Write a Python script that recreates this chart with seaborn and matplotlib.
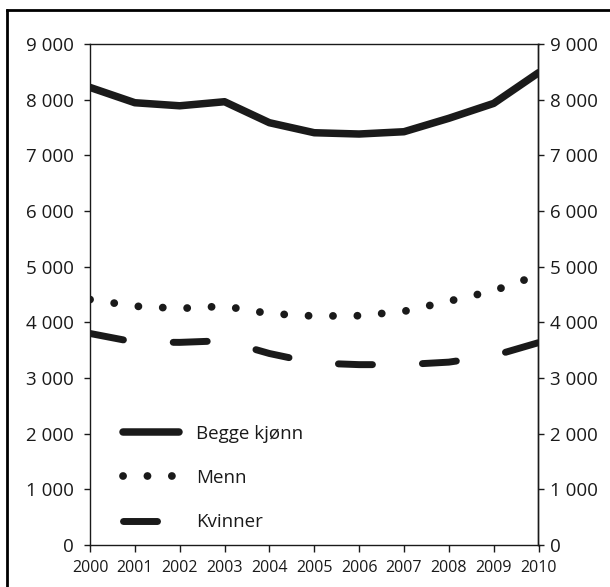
import matplotlib
matplotlib.use("Agg")
import matplotlib.pyplot as plt
from matplotlib.lines import Line2D
from matplotlib.ticker import FuncFormatter
import seaborn as sns
import pandas as pd

years = [2000, 2001, 2002, 2003, 2004, 2005, 2006, 2007, 2008, 2009, 2010]
begge = [8220, 7945, 7890, 7963, 7586, 7406, 7383, 7424, 7665, 7933, 8484]
menn = [4410, 4290, 4250, 4290, 4157, 4113, 4119, 4198, 4380, 4568, 4850]
kvinner = [3800, 3645, 3640, 3670, 3440, 3270, 3240, 3240, 3285, 3400, 3635]
labels = ["Begge kjønn", "Menn", "Kvinner"]
yticks = [0, 1000, 2000, 3000, 4000, 5000, 6000, 7000, 8000, 9000]

sns.set_style("white")
plt.rcParams["font.family"] = ["Open Sans", "DejaVu Sans"]

df = pd.DataFrame({"year": years, "begge": begge, "menn": menn, "kvinner": kvinner})

fig = plt.figure(figsize=(6.10, 5.87), dpi=100)
ax = fig.add_axes([90 / 610, 42 / 587, 448.5 / 610, 501 / 587])

sns.lineplot(data=df, x="year", y="begge", ax=ax, color="#1a1a1a", lw=5.4,
             solid_capstyle="round", solid_joinstyle="round", label=labels[0])
sns.lineplot(data=df, x="year", y="menn", ax=ax, color="#1a1a1a", lw=5.6,
             linestyle=(0, (0.01, 3.13)), dash_capstyle="round", label=labels[1])
sns.lineplot(data=df, x="year", y="kvinner", ax=ax, color="#1a1a1a", lw=5.0,
             linestyle=(0, (4.9, 7.2)), dash_capstyle="round", label=labels[2])

ax.set_xlim(2000, 2010)
ax.set_ylim(0, 9000)
ax.set_xticks(years)
ax.set_xticklabels([str(y) for y in years])
ax.set_yticks(yticks)
fmt = FuncFormatter(lambda v, p: f"{int(v):,}".replace(",", " "))
ax.yaxis.set_major_formatter(fmt)
ax.set_xlabel("")
ax.set_ylabel("")
for s in ax.spines.values():
    s.set_color("#1a1a1a")
    s.set_linewidth(1.0)
    s.set_visible(True)
ax.tick_params(axis="y", direction="out", length=4.5, width=1.0, color="#1a1a1a",
               pad=7, labelsize=13.5, labelcolor="#1a1a1a", left=True)
ax.tick_params(axis="x", direction="out", length=4.8, width=1.0, color="#1a1a1a",
               pad=6, labelsize=11.5, labelcolor="#1a1a1a", bottom=True)

ax2 = ax.twinx()
ax2.set_ylim(0, 9000)
ax2.set_yticks(yticks)
ax2.yaxis.set_major_formatter(fmt)
ax2.tick_params(axis="y", direction="out", length=4.5, width=1.0, color="#1a1a1a",
                pad=4, labelsize=13.5, labelcolor="#1a1a1a", right=True)
for s in ax2.spines.values():
    s.set_visible(False)
ax2.spines["right"].set_visible(True)
ax2.spines["right"].set_linewidth(1.0)
ax2.spines["right"].set_color("#1a1a1a")
ax2.grid(False)
ax.grid(False)

handles = ax.get_lines()[:3]
leg = ax.legend(handles, labels, loc="center left",
                bbox_to_anchor=((123 - 90) / 448.5, (545 - 478) / 501),
                frameon=False, fontsize=13.5, handlelength=3.0,
                handletextpad=0.9, labelspacing=1.4, borderpad=0, borderaxespad=0)
for t in leg.get_texts():
    t.set_color("#1a1a1a")

# outer frame (left and top)
fig.add_artist(Line2D([6.7 / 610, 6.7 / 610], [0, 1 - 10 / 587], transform=fig.transFigure,
                      color="black", lw=2.0))
fig.add_artist(Line2D([6.7 / 610, 1.0], [1 - 10 / 587, 1 - 10 / 587], transform=fig.transFigure,
                      color="black", lw=2.0, solid_capstyle="projecting"))

fig.savefig("out.png", dpi=100)
